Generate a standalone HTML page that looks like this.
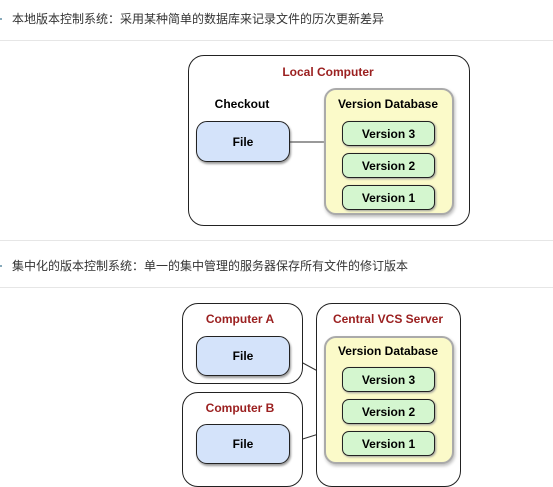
<!DOCTYPE html>
<html><head><meta charset="utf-8"><style>
html,body{margin:0;padding:0;background:#fff;}
body{width:553px;height:471px;position:relative;overflow:hidden;font-family:"Liberation Sans","Noto Sans CJK SC",sans-serif;}
.t{position:absolute;left:12px;font-size:12px;color:#333;white-space:nowrap;}
.sep{position:absolute;left:0;width:553px;height:1px;background:#e6e6e6;}
.b{position:absolute;box-sizing:border-box;border:1.5px solid #222;border-radius:16px;background:#fff;}
.file{position:absolute;box-sizing:border-box;border:1.5px solid #222;border-radius:11px;background:#d4e3fa;font-weight:bold;font-size:12px;display:flex;align-items:center;justify-content:center;box-shadow:1px 2px 2px #999;}
.db{position:absolute;box-sizing:border-box;border:2px solid #aaa;border-radius:12px;background:#fbfac9;box-shadow:1px 2px 3px #bbb;}
.v{position:absolute;box-sizing:border-box;border:1.5px solid #222;border-radius:7px;background:#d4f6cf;font-weight:bold;font-size:12px;display:flex;align-items:center;justify-content:center;box-shadow:1px 1px 2px #999;}
.lab{position:absolute;font-weight:bold;font-size:12px;white-space:nowrap;transform:translate(-50%,-50%);}
.red{color:#9b2020;}
.dot{position:absolute;left:0;width:2px;height:2px;background:#8ab;}
</style></head><body>
<div class="dot" style="top:18px"></div>
<div class="t" style="top:10px">本地版本控制系统：采用某种简单的数据库来记录文件的历次更新差异</div>
<div class="sep" style="top:40px"></div>

<div class="b" style="left:188px;top:55px;width:282px;height:171px;"></div>
<div class="lab red" style="left:328px;top:72px">Local Computer</div>
<div class="lab" style="left:242px;top:104px">Checkout</div>
<div class="file" style="left:196px;top:121px;width:94px;height:41px">File</div>
<svg style="position:absolute;left:0;top:0" width="553" height="471"><line x1="290" y1="142" x2="325" y2="142" stroke="#333" stroke-width="1"/>
<line x1="290" y1="356" x2="325" y2="375" stroke="#333" stroke-width="1"/>
<line x1="290" y1="443" x2="325" y2="432" stroke="#333" stroke-width="1"/></svg>
<div class="db" style="left:324px;top:88px;width:130px;height:127px"></div>
<div class="lab" style="left:388px;top:104px">Version Database</div>
<div class="v" style="left:342px;top:121px;width:93px;height:25px">Version 3</div>
<div class="v" style="left:342px;top:153px;width:93px;height:25px">Version 2</div>
<div class="v" style="left:342px;top:185px;width:93px;height:25px">Version 1</div>

<div class="sep" style="top:240px"></div>
<div class="dot" style="top:265px"></div>
<div class="t" style="top:257px">集中化的版本控制系统：单一的集中管理的服务器保存所有文件的修订版本</div>
<div class="sep" style="top:287px"></div>

<div class="b" style="left:182px;top:303px;width:121px;height:81px"></div>
<div class="lab red" style="left:240px;top:319px">Computer A</div>
<div class="file" style="left:196px;top:336px;width:94px;height:40px">File</div>
<div class="b" style="left:182px;top:392px;width:121px;height:95px"></div>
<div class="lab red" style="left:240px;top:408px">Computer B</div>
<div class="file" style="left:196px;top:424px;width:94px;height:40px">File</div>

<div class="b" style="left:316px;top:303px;width:145px;height:184px"></div>
<div class="lab red" style="left:388px;top:319px">Central VCS Server</div>
<div class="db" style="left:324px;top:336px;width:130px;height:128px"></div>
<div class="lab" style="left:388px;top:351px">Version Database</div>
<div class="v" style="left:342px;top:367px;width:93px;height:25px">Version 3</div>
<div class="v" style="left:342px;top:399px;width:93px;height:25px">Version 2</div>
<div class="v" style="left:342px;top:431px;width:93px;height:25px">Version 1</div>
</body></html>
